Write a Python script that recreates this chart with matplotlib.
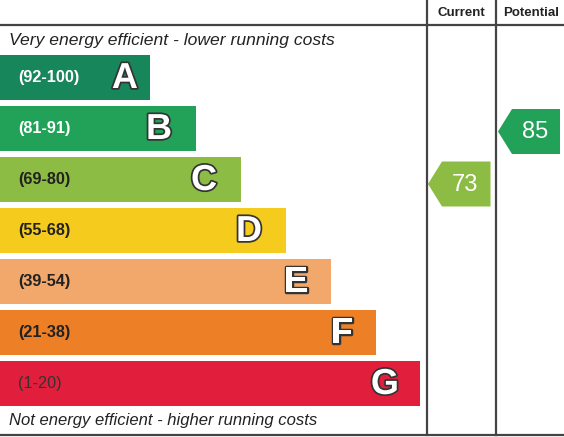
import matplotlib
matplotlib.use("Agg")
import matplotlib.pyplot as plt
from matplotlib.patches import Polygon
import matplotlib.patheffects as pe

# ---- data ----
bands = ["A", "B", "C", "D", "E", "F", "G"]
ranges = ["(92-100)", "(81-91)", "(69-80)", "(55-68)", "(39-54)", "(21-38)", "(1-20)"]
band_low = [92, 81, 69, 55, 39, 21, 1]
band_high = [100, 91, 80, 68, 54, 38, 20]
bar_lengths = [150, 196, 241, 286, 331, 376, 420]
colors = ["#17865a", "#22a259", "#8cbc43", "#f5cb1d", "#f2a86b", "#ed8026", "#e11f3d"]
label_colors = ["white", "white", "#222222", "#222222", "#222222", "#222222", "#333333"]
label_weights = ["bold"] * 6 + ["normal"]
current_score = 73
potential_score = 85
col_titles = ["Current", "Potential"]
top_text = "Very energy efficient - lower running costs"
bottom_text = "Not energy efficient - higher running costs"

W, H = 564, 437
fig = plt.figure(figsize=(W / 100, H / 100), dpi=100)
ax = fig.add_axes([0, 0, 1, 1])
ax.set_xlim(0, W)
ax.set_ylim(H, 0)
ax.axis("off")

FONT = "Liberation Sans"
row_top0, pitch, bar_h = 55, 51, 45
centers = [row_top0 + pitch * i + bar_h / 2 for i in range(len(bands))]

ax.barh(centers, bar_lengths, height=bar_h, left=0, color=colors, edgecolor="none")

letter_gap = [12, 24, 24, 24, 23, 23, 21]
for i, b in enumerate(bands):
    ax.text(18, centers[i], ranges[i], fontsize=11.7, fontweight=label_weights[i],
            color=label_colors[i], family=FONT, va="center", ha="left")
    t = ax.text(bar_lengths[i] - letter_gap[i], centers[i] + 1, b, fontsize=26,
                fontweight="bold", color="white", family=FONT, va="center", ha="right")
    t.set_path_effects([pe.withStroke(linewidth=2.5, foreground="#333333")])

# grid lines
lc = "#444444"
col1, col2 = 426.5, 496
ax.plot([0, W], [25, 25], color=lc, lw=1.6)
ax.plot([0, W], [435, 435], color=lc, lw=1.6)
ax.plot([col1, col1], [0, 435], color=lc, lw=1.6)
ax.plot([col2, col2], [0, 435], color=lc, lw=1.6)

ax.text((col1 + col2) / 2, 12.5, col_titles[0], fontsize=9.5, fontweight="bold",
        family=FONT, color="#222222", ha="center", va="center")
ax.text((col2 + W) / 2 + 1, 12.5, col_titles[1], fontsize=9.5, fontweight="bold",
        family=FONT, color="#222222", ha="center", va="center")

ax.text(9, 40.5, top_text, fontsize=12.6, style="italic", family=FONT,
        color="#222222", ha="left", va="center")
ax.text(9, 421, bottom_text, fontsize=12, style="italic", family=FONT,
        color="#222222", ha="left", va="center")


def score_arrow(score, x_left, x_right):
    idx = next(i for i in range(len(bands)) if band_low[i] <= score <= band_high[i])
    mid = (band_low[idx] + band_high[idx]) / 2
    yc = centers[idx] + (mid - score) * 3
    notch = x_left + 14
    pts = [(x_left, yc), (notch, yc - bar_h / 2), (x_right, yc - bar_h / 2),
           (x_right, yc + bar_h / 2), (notch, yc + bar_h / 2)]
    ax.add_patch(Polygon(pts, closed=True, facecolor=colors[idx], edgecolor="none"))
    ax.text((notch + x_right) / 2 - 1, yc + 1, str(score), fontsize=17, color="white",
            family=FONT, ha="center", va="center")


score_arrow(current_score, col1 + 1.5, col2 - 5.5)
score_arrow(potential_score, col2 + 2, W - 4)

fig.savefig("out.png", dpi=100)
